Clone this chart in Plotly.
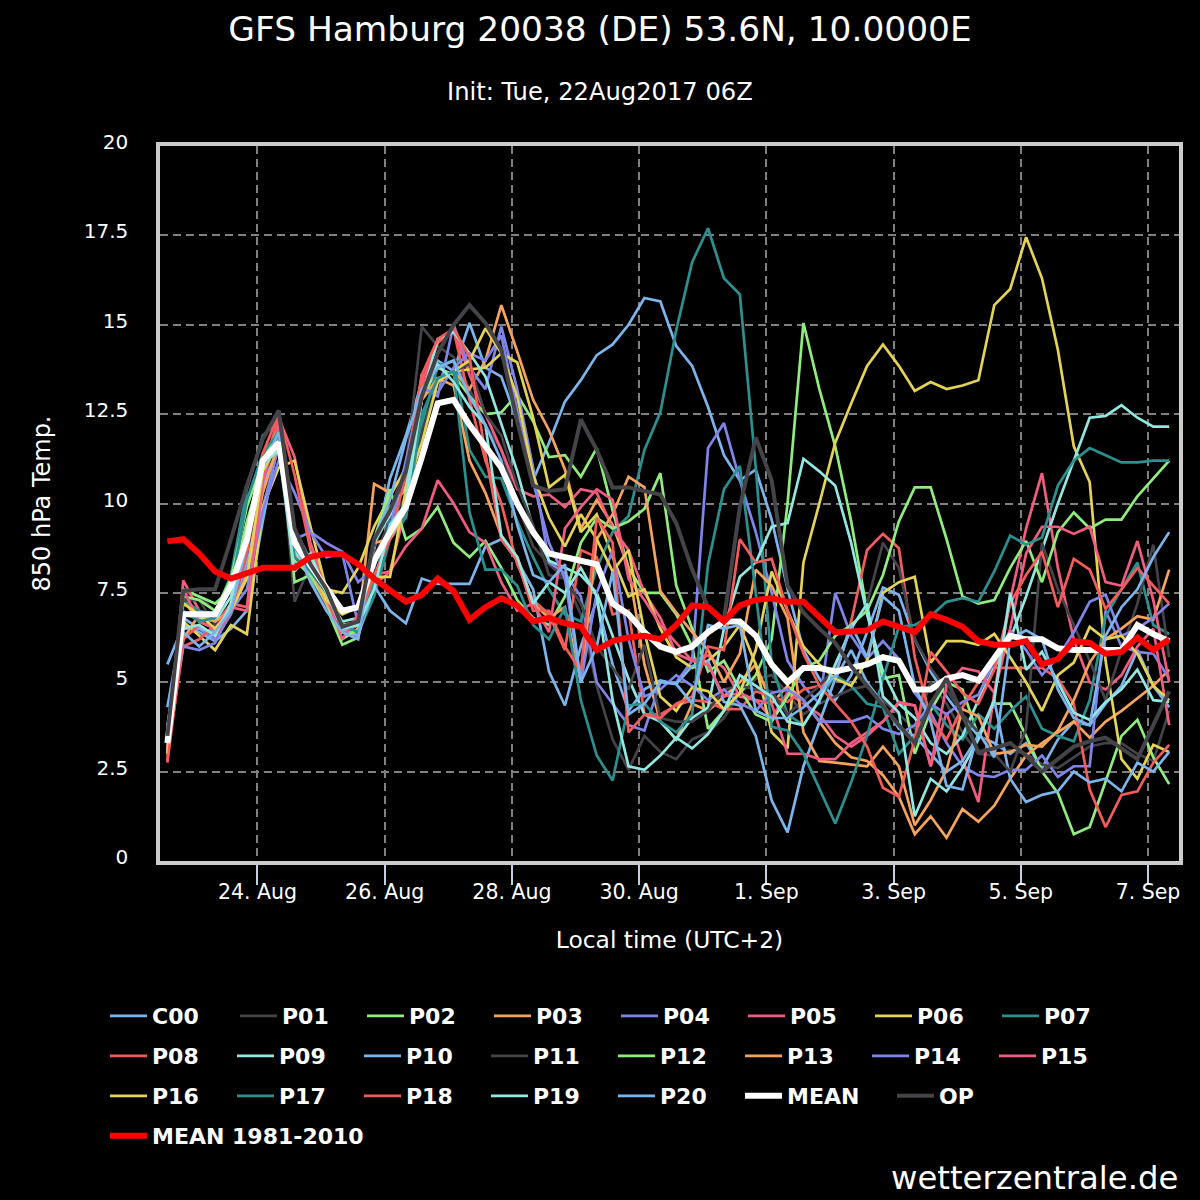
#!/usr/bin/env python3
"""GFS ensemble plume, 850 hPa temperature for Hamburg."""

import pandas as pd
import plotly.graph_objects as go

FONT = "DejaVu Sans"

times = pd.date_range("2017-08-22 14:00", periods=64, freq="6h")

tick_dates = ["2017-08-24", "2017-08-26", "2017-08-28", "2017-08-30",
              "2017-09-01", "2017-09-03", "2017-09-05", "2017-09-07"]
tick_labels = ["24. Aug", "26. Aug", "28. Aug", "30. Aug",
               "1. Sep", "3. Sep", "5. Sep", "7. Sep"]
y_ticks = [0, 2.5, 5, 7.5, 10, 12.5, 15, 17.5, 20]
y_labels = ["0", "2.5", "5", "7.5", "10", "12.5", "15", "17.5", "20"]

c00 = [5.5, 6.6, 6.4, 6.15, 6.5, 7.0, 9.5, 11.8,
       9.2, 8.3, 7.3, 6.5, 6.35, 8.7, 10.7, 11.9,
       13.4, 14.0, 13.7, 15.05, 13.8, 13.55, 12.3, 10.65,
       11.7, 12.85, 13.45, 14.15, 14.45, 15.0, 15.75, 15.65,
       14.4, 13.85, 12.7, 11.35, 10.65, 10.95, 9.55, 7.6,
       5.9, 5.1, 4.5, 5.2, 6.4, 7.65, 7.45, 6.2,
       5.3, 4.6, 4.0, 3.5, 3.3, 3.0, 3.3, 2.6,
       3.4, 3.9, 3.8, 4.4, 4.9, 5.9, 4.9, 4.3]
p01 = [2.9, 7.5, 7.4, 7.0, 7.3, 8.8, 10.4, 12.3,
       7.25, 8.3, 7.4, 6.7, 6.3, 8.8, 9.8, 11.0,
       14.95, 14.4, 14.1, 13.2, 12.2, 11.5, 10.0, 8.8,
       8.3, 7.9, 6.9, 4.9, 3.4, 2.55, 3.5, 3.05,
       2.85, 3.4, 3.6, 4.0, 4.7, 5.1, 5.2, 4.7,
       4.1, 4.4, 4.6, 4.8, 4.9, 4.5, 4.1, 3.7,
       5.0, 4.4, 3.6, 3.0, 2.95, 3.1, 3.0, 2.7,
       2.6, 2.9, 3.2, 3.3, 3.3, 3.0, 2.8, 4.2]
p02 = [3.4, 7.6, 7.4, 7.2, 7.6, 9.5, 11.0, 12.2,
       7.8, 8.0, 7.1, 6.05, 6.25, 8.9, 9.9, 10.4,
       12.9, 13.8, 13.6, 13.0, 12.5, 12.55, 13.05, 12.3,
       11.3, 11.35, 10.75, 11.55, 9.8, 8.2, 7.5, 7.5,
       6.9, 6.0, 3.7, 4.2, 4.7, 5.2, 6.2, 10.0,
       15.05, 13.2, 11.6, 9.5, 7.0, 5.1, 5.2, 3.0,
       4.2, 5.0, 4.8, 3.5, 4.4, 4.4, 3.5, 2.5,
       1.9, 0.75, 0.95, 2.2, 3.5, 3.95, 2.9, 2.15]
p03 = [3.1, 7.3, 6.7, 6.5, 7.2, 8.8, 10.8, 12.0,
       8.6, 7.9, 7.1, 6.4, 6.6, 10.55, 10.3, 10.9,
       13.6, 13.5, 13.7, 13.2, 14.0, 15.55, 14.25, 12.9,
       12.05, 10.95, 9.3, 10.1, 9.4, 8.2, 5.5, 3.9,
       3.4, 4.4, 4.2, 4.6, 5.0, 5.5, 4.4, 4.9,
       4.5, 3.9, 3.3, 2.9, 2.8, 2.4, 1.8, 0.75,
       1.25, 0.65, 1.45, 1.1, 1.55, 2.3, 2.95, 3.3,
       3.6, 3.9, 3.45, 3.9, 4.2, 4.55, 4.9, 5.35]
p04 = [3.0, 6.5, 6.5, 6.2, 6.9, 8.2, 9.9, 11.6,
       9.0, 9.2, 8.9, 8.65, 7.8, 8.2, 9.6, 11.0,
       13.2, 13.0, 15.0, 13.8, 13.2, 14.95, 13.2, 11.0,
       8.35, 8.05, 7.4, 5.0, 4.4, 3.8, 3.65, 5.0,
       5.0, 5.6, 11.55, 12.25, 10.65, 9.2, 7.5, 5.6,
       4.9, 4.4, 7.5, 6.3, 5.65, 6.15, 5.65, 4.7,
       4.15, 3.3, 2.65, 2.4, 2.35, 2.55, 2.55, 2.95,
       2.35, 2.65, 2.65, 7.0, 6.0, 5.85, 5.8, 5.1]
p05 = [2.8, 7.85, 7.0, 6.4, 7.0, 8.5, 10.9, 12.4,
       11.3, 8.9, 7.6, 6.4, 6.3, 8.0, 8.1, 9.9,
       13.4, 14.5, 14.9, 13.6, 12.5, 11.5, 10.4, 10.2,
       10.25, 9.9, 10.4, 10.3, 9.3, 8.7, 7.5, 6.8,
       5.8, 5.6, 5.75, 5.4, 4.6, 4.5, 4.0, 4.7,
       4.4, 4.1, 3.5, 3.2, 3.5, 3.9, 4.4, 4.35,
       2.65, 4.15, 2.85, 1.65, 4.7, 7.3, 9.3, 10.85,
       8.2, 6.2, 5.0, 4.8, 5.2, 6.0, 6.5, 3.8]
p06 = [3.0, 6.7, 6.3, 5.9, 6.6, 6.35, 9.9, 11.0,
       11.2, 9.35, 7.6, 7.5, 8.2, 9.35, 10.2, 11.0,
       13.0, 13.4, 13.7, 13.75, 13.8, 14.2, 13.95, 12.4,
       10.45, 10.8, 9.2, 9.7, 8.5, 7.4, 7.6, 6.5,
       5.7, 5.4, 5.6, 6.0, 6.6, 5.5, 3.6, 3.15,
       8.35, 10.0, 11.7, 12.8, 13.85, 14.45, 13.85, 13.15,
       13.4, 13.2, 13.3, 13.45, 15.55, 16.0, 17.45, 16.3,
       14.3, 11.6, 10.6, 5.6, 2.85, 2.3, 3.25, 3.05]
p07 = [3.2, 7.3, 7.0, 6.9, 8.0, 10.4, 11.9, 12.3,
       8.9, 8.0, 7.1, 6.5, 6.4, 7.4, 9.0, 9.6,
       12.2, 13.85, 14.0, 11.5, 10.75, 10.7, 9.5, 8.5,
       7.6, 6.9, 6.7, 8.2, 9.2, 9.65, 11.5, 12.55,
       14.85, 16.75, 17.7, 16.3, 15.85, 11.0, 5.5, 4.1,
       3.8, 4.5, 5.2, 4.9, 4.4, 4.3, 3.0, 3.5,
       4.4, 3.8, 3.4, 4.1, 3.7, 4.2, 4.6, 3.7,
       3.5, 3.35, 4.5, 6.85, 7.6, 8.35, 6.6, 6.35]
p08 = [3.0, 6.0, 6.2, 6.6, 7.2, 7.1, 10.9, 12.4,
       8.9, 8.3, 7.3, 6.4, 6.6, 8.4, 9.1, 10.0,
       13.2, 14.5, 14.85, 12.9, 11.2, 10.0, 8.3, 7.3,
       6.9, 5.9, 8.7, 8.5, 6.9, 7.0, 4.1, 4.1,
       4.35, 4.5, 4.45, 4.25, 4.25, 4.75, 4.6, 4.45,
       4.8, 4.9, 5.15, 6.7, 8.7, 9.15, 8.75, 5.7,
       4.0, 3.4, 4.3, 5.0, 5.4, 5.4, 5.4, 5.4,
       5.1, 4.4, 2.0, 0.95, 1.85, 1.95, 2.75, 3.25]
p09 = [3.5, 6.9, 6.8, 6.7, 7.4, 9.0, 10.8, 11.9,
       8.7, 8.0, 7.4, 6.7, 6.8, 8.9, 9.7, 10.5,
       12.9, 14.6, 14.8, 14.2, 13.55, 12.25, 10.9, 9.3,
       8.4, 8.2, 8.0, 7.5, 6.3, 5.1, 4.1, 3.9,
       3.4, 4.0, 4.3, 6.5, 7.95, 8.35, 9.35, 9.45,
       11.25, 10.9, 10.5, 8.9, 6.9, 5.3, 4.4, 4.0,
       3.3, 3.0, 3.5, 4.5, 5.4, 6.2, 7.4, 8.7,
       10.0, 11.2, 12.4, 12.45, 12.75, 12.4, 12.15, 12.15]
p10 = [4.3, 6.8, 6.5, 6.4, 7.1, 8.4, 10.5, 11.6,
       9.3, 8.4, 7.7, 6.5, 6.3, 7.7, 7.0, 6.65,
       7.9, 7.75, 7.75, 7.75, 8.8, 9.0, 8.4, 7.6,
       5.3, 4.35, 6.0, 7.3, 5.5, 4.2, 4.8, 5.05,
       4.95, 5.45, 5.6, 4.45, 4.35, 3.5, 1.7, 0.8,
       2.65, 3.9, 5.1, 5.9, 5.0, 4.4, 3.7, 3.5,
       3.0, 2.5, 2.8, 3.5, 4.5, 2.3, 1.65, 1.85,
       1.95, 2.5, 2.2, 2.3, 1.95, 2.75, 2.5, 3.05]
p11 = [3.3, 7.3, 7.3, 6.6, 7.0, 8.6, 10.8, 12.0,
       8.8, 8.1, 7.0, 6.5, 6.6, 8.5, 9.5, 10.2,
       12.0, 13.4, 13.7, 13.9, 12.5, 11.9, 10.5, 9.4,
       8.0, 7.9, 7.2, 6.0, 5.4, 4.8, 6.05, 4.0,
       3.9, 3.9, 4.2, 4.8, 4.9, 4.8, 4.75, 4.1,
       4.5, 4.9, 5.4, 6.5, 7.2, 8.9, 8.2, 6.2,
       5.4, 4.8, 4.1, 3.6, 3.0, 2.5, 3.7, 8.9,
       7.6, 6.6, 5.6, 4.5, 5.9, 7.2, 8.85, 5.7]
p12 = [3.5, 7.4, 7.3, 7.0, 7.9, 9.9, 11.2, 12.1,
       8.4, 8.0, 7.2, 6.2, 6.5, 9.0, 10.4, 9.0,
       9.3, 9.9, 8.9, 8.5, 8.95, 8.2, 7.3, 6.8,
       6.6, 7.4, 8.9, 9.6, 9.3, 9.5, 9.85, 10.85,
       7.7, 6.5, 5.3, 5.6, 4.8, 4.1, 3.9, 4.6,
       5.4, 5.6, 6.3, 6.6, 7.0, 8.0, 9.5, 10.45,
       10.45, 9.0, 7.4, 7.2, 7.3, 8.2, 8.95, 7.8,
       9.2, 9.75, 9.3, 9.55, 9.55, 10.2, 10.7, 11.2]
p13 = [3.2, 6.2, 6.9, 6.7, 7.0, 8.0, 10.3, 11.7,
       8.8, 8.2, 7.2, 6.6, 6.7, 8.9, 9.0, 9.8,
       12.9, 13.5, 13.3, 11.2, 10.3, 9.1, 8.5, 7.2,
       6.8, 7.1, 5.0, 9.0, 9.7, 10.75, 10.45, 7.55,
       6.95, 6.4, 5.9, 5.0, 5.8, 8.15, 7.7, 6.8,
       3.6, 2.8, 2.75, 2.7, 2.65, 3.2, 2.65, 1.0,
       1.7, 2.55, 4.25, 4.05, 3.0, 3.05, 3.25, 3.2,
       3.65, 4.5, 5.55, 6.2, 6.5, 6.85, 6.75, 8.15]
p14 = [3.4, 6.0, 5.9, 6.1, 7.0, 7.6, 9.8, 11.2,
       10.3, 9.2, 8.5, 8.6, 6.6, 8.4, 9.3, 11.2,
       13.2, 13.1, 13.8, 14.2, 14.0, 14.7, 12.6, 10.6,
       8.9, 7.9, 5.0, 7.5, 8.7, 6.2, 4.6, 4.8,
       5.2, 4.9, 4.5, 4.8, 4.4, 4.2, 4.7, 4.8,
       4.5, 3.9, 3.9, 3.9, 4.05, 3.7, 3.55, 3.8,
       4.4, 4.1, 4.45, 4.65, 5.6, 6.45, 5.9, 5.2,
       5.7, 6.4, 7.25, 7.45, 6.3, 6.5, 6.8, 7.2]
p15 = [3.2, 7.6, 6.7, 6.5, 7.1, 7.0, 10.6, 12.2,
       9.3, 8.2, 7.4, 6.2, 6.9, 7.7, 8.1, 8.8,
       9.3, 10.65, 10.0, 9.2, 8.9, 7.8, 7.0, 7.2,
       6.4, 9.3, 9.9, 10.4, 10.1, 7.9, 7.3, 6.6,
       6.1, 5.6, 5.5, 4.6, 4.7, 4.5, 4.4, 3.0,
       3.0, 2.85, 2.85, 3.3, 3.6, 3.9, 4.45, 4.35,
       2.65, 4.9, 5.4, 5.3, 4.7, 6.5, 8.6, 9.35,
       9.35, 9.15, 9.35, 7.8, 7.7, 8.95, 7.3, 5.0]
p16 = [3.0, 7.2, 6.9, 6.5, 7.0, 7.9, 10.9, 11.7,
       9.0, 8.4, 7.3, 6.9, 7.1, 7.95, 7.95, 10.4,
       11.7, 13.4, 13.7, 14.0, 14.9, 14.2, 13.0, 10.8,
       9.6, 8.8, 9.7, 9.0, 8.1, 8.7, 6.4, 4.6,
       4.2, 4.85, 4.75, 4.25, 4.7, 5.9, 8.1, 7.0,
       6.0, 5.5, 5.1, 4.9, 5.6, 7.5, 7.8, 7.95,
       5.55, 6.15, 6.15, 6.05, 6.35, 5.7, 5.0, 4.2,
       5.2, 5.55, 6.55, 6.2, 6.3, 5.8, 4.9, 4.5]
p17 = [3.3, 7.0, 6.7, 6.8, 7.6, 10.1, 11.4, 12.0,
       8.5, 8.1, 7.5, 6.6, 6.4, 7.8, 9.5, 9.6,
       12.5, 13.5, 13.7, 9.75, 8.15, 8.15, 7.7, 6.6,
       6.2, 7.1, 4.5, 2.95, 2.25, 4.35, 4.4, 3.9,
       3.6, 4.1, 8.3, 10.4, 11.05, 7.5, 3.75, 3.65,
       3.0, 2.0, 1.05, 2.2, 3.5, 5.1, 6.55, 6.6,
       6.85, 7.25, 7.35, 7.25, 8.1, 9.1, 8.85, 9.05,
       10.5, 11.2, 11.55, 11.35, 11.15, 11.15, 11.2, 11.2]
p18 = [2.75, 6.2, 6.6, 6.3, 7.0, 8.6, 11.4, 12.5,
       10.8, 8.7, 7.6, 6.5, 6.7, 8.0, 9.0, 10.8,
       13.6, 14.6, 14.9, 14.1, 11.4, 9.0, 8.4, 7.0,
       7.0, 6.0, 5.3, 9.6, 8.9, 3.6, 4.1, 4.0,
       4.4, 4.6, 6.0, 5.9, 9.0, 8.35, 8.45, 7.0,
       5.8, 4.9, 4.4, 3.9, 3.2, 2.05, 1.8, 3.4,
       5.85, 5.3, 4.7, 4.4, 5.35, 7.2, 8.0, 8.65,
       7.1, 8.45, 8.15, 7.05, 7.6, 8.2, 7.7, 7.2]
p19 = [3.6, 6.5, 6.6, 6.3, 7.2, 9.2, 11.1, 11.5,
       8.1, 8.6, 7.5, 6.5, 6.6, 7.6, 9.4, 10.0,
       13.0, 13.9, 13.4, 12.7, 12.2, 9.1, 8.5, 7.2,
       7.8, 7.5, 8.2, 7.4, 4.5, 2.65, 2.55, 2.95,
       3.45, 3.15, 3.55, 4.2, 5.2, 4.9, 4.6, 3.9,
       3.8, 4.5, 5.5, 6.5, 7.2, 4.6, 4.15, 1.25,
       2.3, 1.95, 2.6, 3.4, 4.5, 7.5, 5.35, 5.85,
       5.0, 4.15, 3.95, 4.45, 4.8, 5.35, 4.5, 4.45]
p20 = [3.8, 6.4, 6.0, 6.4, 7.0, 8.9, 11.0, 12.0,
       8.9, 7.8, 7.0, 6.4, 6.2, 9.0, 10.1, 11.8,
       13.2, 13.8, 14.0, 13.0, 12.2, 11.2, 9.4, 8.0,
       7.8, 8.3, 5.0, 6.0, 8.1, 4.1, 4.4, 5.0,
       4.95, 4.4, 6.6, 6.5, 6.6, 4.2, 4.0, 4.0,
       4.3, 4.7, 5.2, 6.6, 5.7, 7.4, 7.0, 4.9,
       3.9, 2.1, 2.0, 3.6, 2.9, 6.2, 6.45, 6.2,
       4.8, 4.0, 3.8, 6.3, 7.1, 7.6, 8.5, 9.2]
mean = [3.3, 6.9, 6.9, 6.9, 7.7, 9.0, 11.2, 11.7,
        8.9, 8.25, 7.6, 7.0, 7.1, 8.4, 9.2, 9.9,
        11.3, 12.8, 12.9, 12.2, 11.6, 11.0, 10.0, 9.2,
        8.6, 8.5, 8.4, 8.3, 7.2, 6.9, 6.4, 6.0,
        5.85, 6.0, 6.4, 6.7, 6.7, 6.3, 5.5, 5.0,
        5.4, 5.4, 5.3, 5.4, 5.5, 5.7, 5.6, 4.8,
        4.8, 5.1, 5.2, 5.05, 5.7, 6.3, 6.2, 6.2,
        5.95, 5.9, 5.9, 5.9, 5.9, 6.6, 6.35, 6.15]
op = [3.5, 7.55, 7.6, 7.6, 9.0, 10.5, 11.8, 12.6,
      9.3, 8.3, 7.6, 6.55, 6.7, 9.0, 9.8, 10.9,
      13.0, 14.2, 15.0, 15.55, 15.05, 14.3, 12.3, 10.5,
      10.35, 10.4, 12.35, 11.5, 10.45, 10.45, 10.35, 10.25,
      9.45, 8.15, 7.1, 6.75, 9.9, 11.85, 10.65, 7.7,
      6.95, 6.5, 6.1, 5.45, 4.9, 4.35, 3.8, 3.3,
      4.4, 5.1, 4.1, 3.05, 3.15, 3.3, 2.95, 2.5,
      2.85, 3.2, 3.35, 3.45, 3.15, 2.85, 3.8, 4.75]
clim = [8.94, 9.0, 8.6, 8.1, 7.9, 8.05, 8.2, 8.2,
        8.2, 8.5, 8.6, 8.58, 8.3, 7.9, 7.6, 7.25,
        7.45, 7.9, 7.55, 6.75, 7.1, 7.35, 7.15, 6.7,
        6.8, 6.65, 6.55, 5.9, 6.15, 6.25, 6.3, 6.2,
        6.6, 7.15, 7.1, 6.7, 7.15, 7.3, 7.35, 7.25,
        7.25, 6.8, 6.4, 6.42, 6.45, 6.7, 6.55, 6.4,
        6.9, 6.75, 6.55, 6.15, 6.05, 6.05, 6.15, 5.5,
        5.65, 6.15, 6.1, 5.8, 5.85, 6.25, 5.9, 6.2]

member_names = ["C00", "P01", "P02", "P03", "P04", "P05", "P06", "P07", "P08", "P09", "P10",
                "P11", "P12", "P13", "P14", "P15", "P16", "P17", "P18", "P19", "P20"]
member_values = [c00, p01, p02, p03, p04, p05, p06, p07, p08, p09, p10,
                 p11, p12, p13, p14, p15, p16, p17, p18, p19, p20]
palette = ["#7cb5ec", "#434348", "#90ed7d", "#f7a35c", "#8085e9",
           "#f15c80", "#e4d354", "#2b908f", "#f45b5b", "#91e8e1"]


def legend_for(i):
    # the plotly row pitch cannot be stretched to 40 px, so each row gets its own legend
    if i == 0:
        return "legend"
    return "legend2" if i < 8 else "legend3" if i < 16 else "legend4"


fig = go.Figure()
for i, (name, values) in enumerate(zip(member_names, member_values)):
    fig.add_trace(go.Scatter(x=times, y=values, name=name, mode="lines", legend=legend_for(i),
                             showlegend=True, line=dict(color=palette[i % 10], width=2.7)))
fig.add_trace(go.Scatter(x=times, y=mean, name="MEAN", mode="lines", legend="legend4",
                         line=dict(color="#ffffff", width=6)))
fig.add_trace(go.Scatter(x=times, y=op, name="OP", mode="lines", legend="legend5",
                         line=dict(color="#434348", width=4)))
fig.add_trace(go.Scatter(x=times, y=clim, name="MEAN 1981-2010", mode="lines", legend="legend6",
                         line=dict(color="#ff0000", width=6)))


def row_legend(x_px, y_px, entrywidth=75):
    return dict(orientation="h", xref="container", yref="container",
                x=x_px / 1200, xanchor="left", y=1 - y_px / 1200, yanchor="middle",
                entrywidth=entrywidth, entrywidthmode="pixels", itemwidth=37, bgcolor="rgba(0,0,0,0)",
                font=dict(family=FONT, size=22, color="#ffffff", weight="bold"),
                itemclick=False, itemdoubleclick=False)


fig.update_layout(
    width=1200,
    height=1200,
    autosize=False,
    showlegend=True,
    margin=dict(l=160, r=21, t=146, b=339),
    paper_bgcolor="#000000",
    plot_bgcolor="#000000",
    font=dict(family=FONT, color="#ffffff"),
    hovermode=False,
    title=dict(text="GFS Hamburg 20038 (DE) 53.6N, 10.0000E", x=0.5, xanchor="center",
               y=1 - 29 / 1200, yanchor="middle", font=dict(family=FONT, size=34.4, color="#ffffff")),
    legend=row_legend(105, 1016),
    legend2=row_legend(235, 1016),
    legend3=row_legend(105, 1056),
    legend4=row_legend(105, 1096),
    legend5=row_legend(892, 1096),
    legend6=row_legend(105, 1136, entrywidth=260),
    annotations=[
        # paper coordinates of the plot area, worked out from page pixels
        dict(text="Init: Tue, 22Aug2017 06Z", x=(600 - 160) / 1019, y=(861 - 92) / 715,
             xref="paper", yref="paper", xanchor="center", yanchor="middle", showarrow=False,
             font=dict(size=24.2, color="#ffffff")),
        dict(text="wetterzentrale.de", x=(1180 - 160) / 1019, y=(861 - 1178) / 715,
             xref="paper", yref="paper", xanchor="right", yanchor="middle", showarrow=False,
             font=dict(size=32.3, color="#ffffff")),
    ],
)

fig.update_xaxes(
    range=["2017-08-22 11:13", "2017-09-07 11:42"],
    tickmode="array", tickvals=tick_dates, ticktext=tick_labels,
    tickfont=dict(family=FONT, size=20.5, color="#ffffff"),
    ticks="outside", ticklen=20, tickwidth=2, tickcolor="#c0d0e0", ticklabelstandoff=-10,
    showgrid=True, gridcolor="#808080", gridwidth=2, griddash="8px,5px",
    showline=True, mirror=True, linecolor="#cccccc", linewidth=3.5, zeroline=False,
    title=dict(text="Local time (UTC+2)", standoff=29, font=dict(family=FONT, size=23.4, color="#ffffff")),
)
fig.update_yaxes(
    range=[0, 20],
    tickmode="array", tickvals=y_ticks, ticktext=y_labels,
    tickfont=dict(family=FONT, size=20, color="#ffffff"),
    ticks="", ticklabelstandoff=24, ticklabelshift=-4,
    showgrid=True, gridcolor="#808080", gridwidth=2, griddash="8px,5px",
    showline=True, mirror=True, linecolor="#cccccc", linewidth=3.5, zeroline=False,
    title=dict(text="850 hPa Temp.", standoff=27, font=dict(family=FONT, size=24, color="#ffffff")),
)

fig.write_html("out.html", config=dict(displayModeBar=False),
               post_script="document.body.style.margin = '0';")
